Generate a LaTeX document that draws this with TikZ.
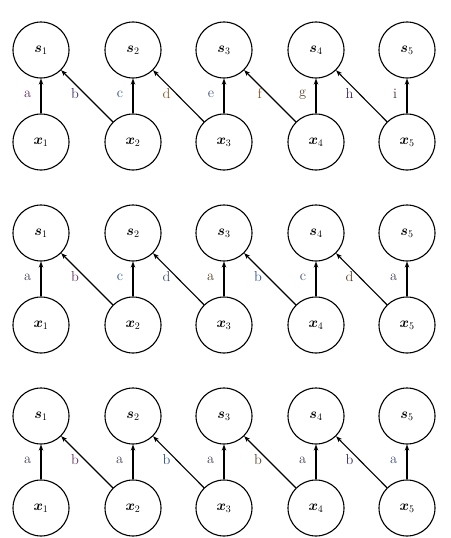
\documentclass[tikz,border=0pt]{standalone}
\usepackage{amsmath}
\usetikzlibrary{arrows.meta}
\definecolor{lpurple}{rgb}{0.38,0.18,0.38}
\definecolor{lindigo}{rgb}{0.24,0.16,0.42}
\definecolor{lblue}{rgb}{0.18,0.32,0.55}
\definecolor{lsteel}{rgb}{0.25,0.32,0.47}
\definecolor{lbrown}{rgb}{0.52,0.34,0.14}
\definecolor{ldbrown}{rgb}{0.34,0.26,0.16}
\definecolor{lslate}{rgb}{0.28,0.26,0.35}
\definecolor{lplum}{rgb}{0.26,0.19,0.26}
\tikzset{
  var/.style={circle, draw, line width=1.1pt, minimum size=56pt, inner sep=0pt, font=\Large},
  upedge/.style={line width=1.7pt, -{Stealth[length=6pt,width=4.5pt]}},
  diagedge/.style={line width=1.1pt, -{Stealth[length=6pt,width=4.5pt]}},
  lab/.style={font=\Large, inner sep=2pt},
}
\begin{document}
\begin{tikzpicture}[x=1pt,y=-1pt]
\useasboundingbox (0,0) rectangle (450,538);
\foreach \r/\ys in {1/50,2/233,3/416}{
  \foreach \i/\xs in {1/41,2/133,3/224,4/316,5/407}{
    \node[var] (s\r\i) at (\xs, \ys) {$\boldsymbol{s}_{\i}$};
    \node[var] (x\r\i) at (\xs, {\ys+92}) {$\boldsymbol{x}_{\i}$};
  }
}
% row 1
\foreach \i/\t/\c in {1/a/lpurple,2/c/lblue,3/e/lsteel,4/g/ldbrown,5/i/lplum}{
  \draw[upedge] (x1\i) -- node[lab,pos=0.55,left=7pt,text=\c] {\t} (s1\i);
}
\foreach \i/\j/\t/\c in {1/2/b/lindigo,2/3/d/lbrown,3/4/f/lbrown,4/5/h/lindigo}{
  \draw[diagedge] (x1\j) -- node[lab,pos=0.55,left=3pt,text=\c] {\t} (s1\i);
}
% row 2
\foreach \i/\t/\c in {1/a/lslate,2/c/lblue,3/a/ldbrown,4/c/lsteel,5/a/lslate}{
  \draw[upedge] (x2\i) -- node[lab,pos=0.55,left=7pt,text=\c] {\t} (s2\i);
}
\foreach \i/\j/\t/\c in {1/2/b/lpurple,2/3/d/lsteel,3/4/b/lblue,4/5/d/ldbrown}{
  \draw[diagedge] (x2\j) -- node[lab,pos=0.55,left=3pt,text=\c] {\t} (s2\i);
}
% row 3
\foreach \i/\t/\c in {1/a/lslate,2/a/lslate,3/a/lslate,4/a/lslate,5/a/lsteel}{
  \draw[upedge] (x3\i) -- node[lab,pos=0.55,left=7pt,text=\c] {\t} (s3\i);
}
\foreach \i/\j/\t/\c in {1/2/b/lpurple,2/3/b/lblue,3/4/b/ldbrown,4/5/b/lindigo}{
  \draw[diagedge] (x3\j) -- node[lab,pos=0.55,left=3pt,text=\c] {\t} (s3\i);
}
\end{tikzpicture}
\end{document}
